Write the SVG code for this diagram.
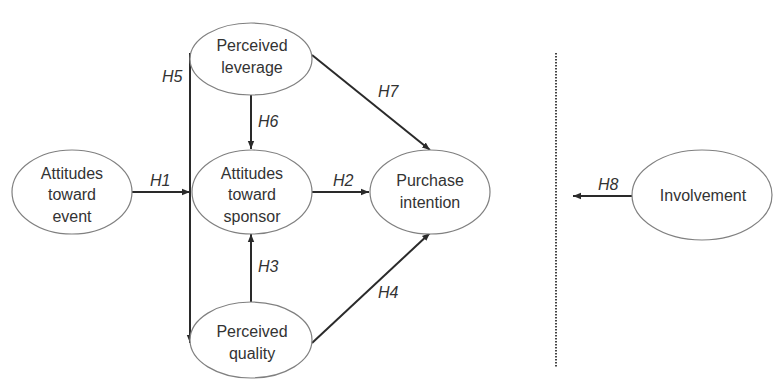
<svg xmlns="http://www.w3.org/2000/svg" width="773" height="380" viewBox="0 0 773 380">
<style>
.node ellipse{fill:#fff;stroke:#808080;stroke-width:1.2}
.node text{font-family:"Liberation Sans",Arial,sans-serif;font-size:16px;fill:#333;text-anchor:middle}
.lab{font-family:"Liberation Sans",Arial,sans-serif;font-size:16px;font-style:italic;fill:#333}
.edge{stroke:#2a2a2a;stroke-width:2;fill:none}
</style>
<defs>
<marker id="ah" viewBox="0 0 10 10" refX="10" refY="5" markerWidth="4" markerHeight="4" orient="auto" markerUnits="strokeWidth">
<path d="M0,1 L10,5 L0,9 z" fill="#2a2a2a"/>
</marker>
</defs>
<rect width="773" height="380" fill="#fff"/>
<g id="connectors">
<line class="edge" x1="190" y1="53" x2="190" y2="343" marker-end="url(#ah)"/>
<line class="edge" x1="132" y1="192" x2="190" y2="192" marker-end="url(#ah)"/>
<line class="edge" x1="251" y1="95" x2="251" y2="149" marker-end="url(#ah)"/>
<line class="edge" x1="251" y1="302" x2="251" y2="234" marker-end="url(#ah)"/>
<line class="edge" x1="312" y1="192" x2="369" y2="192" marker-end="url(#ah)"/>
<line class="edge" x1="312" y1="55" x2="430" y2="150" marker-end="url(#ah)"/>
<line class="edge" x1="312" y1="343" x2="430" y2="233" marker-end="url(#ah)"/>
<line class="edge" x1="632" y1="196" x2="573" y2="196" marker-end="url(#ah)"/>
<line x1="556" y1="53" x2="556" y2="368" stroke="#444" stroke-width="2" stroke-dasharray="1.5,1.5"/>
</g>
<g id="labels">
<text class="lab" x="162" y="82">H5</text>
<text class="lab" x="258" y="127">H6</text>
<text class="lab" x="150" y="186">H1</text>
<text class="lab" x="333" y="186">H2</text>
<text class="lab" x="378" y="97">H7</text>
<text class="lab" x="258" y="272">H3</text>
<text class="lab" x="378" y="298">H4</text>
<text class="lab" x="598" y="190">H8</text>
</g>
<g id="n-leverage" class="node">
<ellipse cx="251" cy="59" rx="61" ry="36"/>
<text x="252" y="51">Perceived</text>
<text x="252" y="73">leverage</text>
</g>
<g id="n-event" class="node">
<ellipse cx="72" cy="192" rx="60" ry="42"/>
<text x="72" y="179">Attitudes</text>
<text x="72" y="200">toward</text>
<text x="72" y="222">event</text>
</g>
<g id="n-sponsor" class="node">
<ellipse cx="252" cy="192" rx="60" ry="42"/>
<text x="252" y="179">Attitudes</text>
<text x="252" y="200">toward</text>
<text x="252" y="222">sponsor</text>
</g>
<g id="n-quality" class="node">
<ellipse cx="251" cy="340" rx="61" ry="38"/>
<text x="252" y="337">Perceived</text>
<text x="252" y="359">quality</text>
</g>
<g id="n-purchase" class="node">
<ellipse cx="430" cy="192" rx="60" ry="42"/>
<text x="430" y="186">Purchase</text>
<text x="430" y="208">intention</text>
</g>
<g id="n-involvement" class="node">
<ellipse cx="702" cy="195" rx="70" ry="45"/>
<text x="703" y="201">Involvement</text>
</g>
</svg>
